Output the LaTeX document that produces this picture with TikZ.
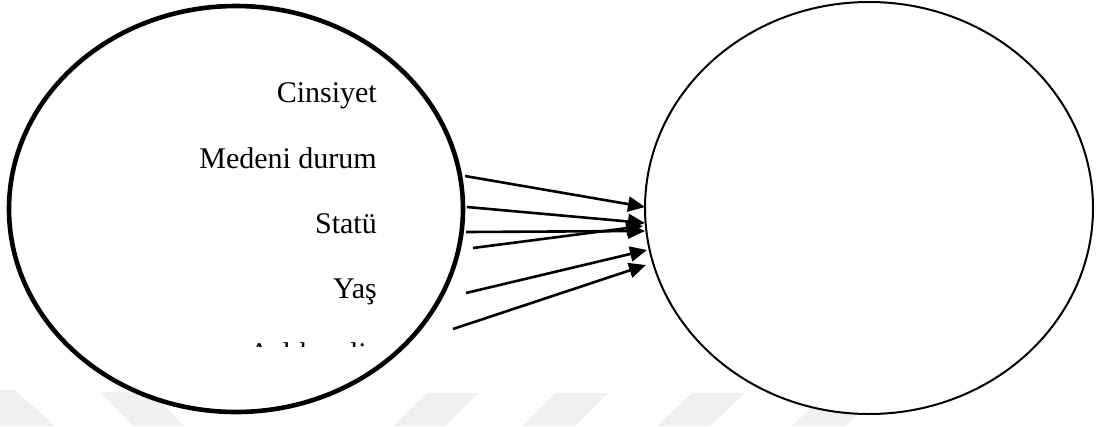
\documentclass[tikz,border=0pt]{standalone}
\usepackage{fontspec}
\setmainfont{Liberation Serif}
\usetikzlibrary{shapes.geometric,arrows.meta}
\tikzset{
  lbl/.style={anchor=base east, inner sep=0pt, font=\fontsize{30}{35}\selectfont},
  bigell/.style={ellipse, draw, fill=white, inner sep=0pt, outer sep=0pt},
  arr/.style={line width=2.6pt, -{Triangle[length=17pt,width=15pt]}},
  wm/.style={fill=black!6, draw=none}
}
\begin{document}
\begin{tikzpicture}[x=1pt,y=-1pt]
\useasboundingbox (0,0) rectangle (1097,426);
% watermark bands
\fill[wm] (0,390) -- (15,390) -- (55,426) -- (0,426) -- cycle;
\fill[wm] (100,392) -- (151,392) -- (184,426) -- (133,426) -- cycle;
\fill[wm] (427,393) -- (478,393) -- (445,426) -- (393,426) -- cycle;
\fill[wm] (555,393) -- (608,393) -- (575,426) -- (522,426) -- cycle;
\fill[wm] (692,393) -- (745,393) -- (710,426) -- (657,426) -- cycle;
\fill[wm] (827,393) -- (880,393) -- (845,426) -- (792,426) -- cycle;
% ellipses
\node[bigell, line width=4.6pt, minimum width=454pt, minimum height=406pt] (L) at (236,209) {};
\node[bigell, line width=2pt, minimum width=448pt, minimum height=412pt] (R) at (869,208) {};
% labels
\node[lbl] (t1) at (377,102) {Cinsiyet};
\node[lbl] (t2) at (377,168) {Medeni durum};
\node[lbl] (t3) at (377,233) {Statü};
\node[lbl] (t4) at (377,298) {Yaş};
\begin{scope}
\clip (200,300) rectangle (420,346.5);
\node[lbl] (t5) at (377,363) {Aylık gelir};
\end{scope}
% arrow end points
\coordinate (s1) at (465,176); \coordinate (e1) at (645,207);
\coordinate (s2) at (467,207); \coordinate (e2) at (645,223);
\coordinate (s3) at (466,232); \coordinate (e3) at (645,231);
\coordinate (s4) at (473,248); \coordinate (e4) at (643,226);
\coordinate (s5) at (466,293); \coordinate (e5) at (647,250);
\coordinate (s6) at (453,329); \coordinate (e6) at (646,265);
\draw[arr] (s1) -- (e1);
\draw[arr] (s2) -- (e2);
\draw[arr] (s3) -- (e3);
\draw[arr] (s4) -- (e4);
\draw[arr] (s5) -- (e5);
\draw[arr] (s6) -- (e6);
\end{tikzpicture}
\end{document}
